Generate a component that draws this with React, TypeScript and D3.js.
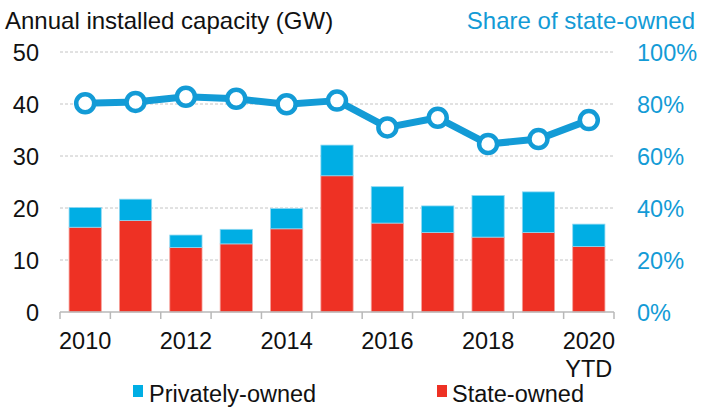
import React from 'react';
import * as d3 from 'd3';

const years = ['2010','2011','2012','2013','2014','2015','2016','2017','2018','2019','2020'];
const stateOwned = [16.3, 17.6, 12.4, 13.1, 16.0, 26.2, 17.1, 15.3, 14.4, 15.3, 12.6];
const privatelyOwned = [3.8, 4.1, 2.4, 2.8, 3.9, 5.9, 7.0, 5.1, 8.0, 7.8, 4.3];
const shareStateOwned = [80.3, 80.8, 82.8, 82.0, 79.9, 81.3, 71.0, 74.7, 64.6, 66.5, 73.8];
const leftTicks = [0, 10, 20, 30, 40, 50];
const rightTicks = [0, 20, 40, 60, 80, 100];
const xLabelYears = ['2010','2012','2014','2016','2018','2020'];

const BLUE = '#00aee4';
const RED = '#ee3124';
const LINE = '#139bd6';
const FONT = 'Liberation Sans, Arial, sans-serif';
const FS = 23.5;

export default function App() {
  const W = 710, H = 408;
  const x = d3.scaleBand<string>().domain(years).range([60, 614]).paddingInner(0.36).paddingOuter(0.18);
  const xb = d3.scaleBand<string>().domain(years).range([60, 614]).padding(0);
  const y = d3.scaleLinear().domain([0, 50]).range([312, 52]);
  const y2 = d3.scaleLinear().domain([0, 100]).range([312, 52]);
  const cx = (d: string) => (xb(d) as number) + xb.bandwidth() / 2;
  const bw = x.bandwidth();
  const line = d3.line<number>().x((_, i) => cx(years[i])).y(v => y2(v));

  return (
    <svg width={W} height={H} style={{ position: 'absolute', left: 0, top: 0, background: '#fff' }} fontFamily={FONT}>
      {/* titles */}
      <text x={5} y={29} fontSize={24} fill="#111">Annual installed capacity (GW)</text>
      <text x={695} y={29} fontSize={24} fill={LINE} textAnchor="end">Share of state-owned</text>

      {/* gridlines */}
      {leftTicks.filter(t => t > 0).map(t => (
        <line key={t} x1={60} x2={614} y1={y(t)} y2={y(t)} stroke="#c4c4c4" strokeWidth={1} strokeDasharray="3,2" />
      ))}

      {/* left ticks */}
      {leftTicks.map(t => (
        <text key={t} x={39} y={y(t) + 9} fontSize={FS} textAnchor="end" fill="#111">{t}</text>
      ))}
      {/* right ticks */}
      {rightTicks.map(t => (
        <text key={t} x={637} y={y2(t) + 9} fontSize={FS} fill={LINE}>{t}%</text>
      ))}

      {/* bars */}
      {years.map((yr, i) => {
        const x0 = x(yr) as number;
        const s = stateOwned[i];
        const p = privatelyOwned[i];
        return (
          <g key={yr}>
            <rect x={x0} y={y(s)} width={bw} height={y(0) - y(s)} fill={RED} stroke="#f5a09a" strokeWidth={0.8} />
            <rect x={x0} y={y(s + p)} width={bw} height={y(s) - y(s + p)} fill={BLUE} stroke="#8fd8f2" strokeWidth={0.8} />
          </g>
        );
      })}

      {/* x axis */}
      <line x1={60} x2={614} y1={312} y2={312} stroke="#b8b8b8" strokeWidth={1.5} />
      {years.concat(['end']).map((yr, i) => {
        const xx = i < years.length ? (xb(yr) as number) : 614;
        return <line key={'t' + i} x1={xx} x2={xx} y1={312} y2={319} stroke="#b8b8b8" strokeWidth={1.5} />;
      })}
      {xLabelYears.map(yr => (
        <text key={yr} x={cx(yr)} y={349} fontSize={FS} textAnchor="middle" fill="#111">{yr}</text>
      ))}
      <text x={cx('2020')} y={377} fontSize={FS} textAnchor="middle" fill="#111">YTD</text>

      {/* share line */}
      <path d={line(shareStateOwned) as string} fill="none" stroke={LINE} strokeWidth={7} strokeLinejoin="round" />
      {shareStateOwned.map((v, i) => (
        <circle key={i} cx={cx(years[i])} cy={y2(v)} r={9} fill="#fff" stroke={LINE} strokeWidth={4.5} />
      ))}

      {/* legend */}
      <rect x={133} y={385} width={10} height={12} fill={BLUE} />
      <text x={149} y={402} fontSize={FS} fill="#111">Privately-owned</text>
      <rect x={437} y={385} width={10} height={12} fill={RED} />
      <text x={452} y={402} fontSize={FS} fill="#111">State-owned</text>
    </svg>
  );
}
